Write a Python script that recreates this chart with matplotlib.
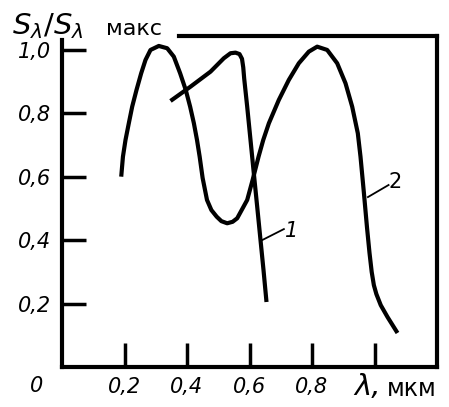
import matplotlib
matplotlib.use("Agg")
import matplotlib.pyplot as plt

# Relative spectral sensitivity, curve 1
x1 = [0.3472, 0.4112, 0.4752, 0.5178, 0.5392, 0.5552, 0.5680, 0.5760, 0.5800,
      0.5830, 0.5926, 0.6032, 0.6138, 0.6246, 0.6352, 0.6448, 0.6544]
y1 = [0.8391, 0.8842, 0.9315, 0.9738, 0.9896, 0.9915, 0.9870, 0.9720, 0.9450,
      0.9100, 0.8211, 0.7161, 0.6110, 0.5057, 0.4006, 0.3060, 0.2050]

# Relative spectral sensitivity, curve 2
x2 = [0.1895, 0.1950, 0.2032, 0.2138, 0.2246, 0.2384, 0.2534, 0.2672, 0.2832,
      0.3098, 0.3366, 0.3578, 0.3780, 0.3960, 0.4100, 0.4220, 0.4320, 0.4405,
      0.4500, 0.4640, 0.4780, 0.4950, 0.5100, 0.5286, 0.5460, 0.5606, 0.5926,
      0.6100, 0.6290, 0.6440, 0.6620, 0.6938, 0.7258, 0.7578, 0.7898, 0.8166,
      0.8486, 0.8806, 0.9072, 0.9286, 0.9466, 0.9552, 0.9660, 0.9760, 0.9840,
      0.9910, 0.9980, 1.0060, 1.0200, 1.0416, 1.0736]
y2 = [0.6003, 0.6634, 0.7161, 0.7688, 0.8212, 0.8738, 0.9265, 0.9685, 1.0000,
      1.0126, 1.0054, 0.9789, 0.9265, 0.8738, 0.8212, 0.7688, 0.7161, 0.6634,
      0.5962, 0.5268, 0.4950, 0.4741, 0.4600, 0.4533, 0.4580, 0.4691, 0.5268,
      0.5899, 0.6634, 0.7161, 0.7688, 0.8423, 0.9054, 0.9580, 0.9946, 1.0104,
      1.0000, 0.9580, 0.8950, 0.8211, 0.7372, 0.6634, 0.5500, 0.4400, 0.3600,
      0.3000, 0.2580, 0.2300, 0.1950, 0.1577, 0.1073]

xticks = [0.2, 0.4, 0.6, 0.8, 1.0]
xticklabels = ["0,2", "0,4", "0,6", "0,8", ""]
yticks = [0.2, 0.4, 0.6, 0.8, 1.0]
yticklabels = ["0,2", "0,4", "0,6", "0,8", "1,0"]

fig = plt.figure(figsize=(4.49, 4.07), dpi=100)
ax = fig.add_axes([62 / 449, 1 - 367 / 407, 375 / 449, 331 / 407])
ax.set_xlim(0, 1.2)
ax.set_ylim(0, 1.044)

lw = 3.0
for xs, ys in ((x1, y1), (x2, y2)):
    ax.plot(xs, ys, color="black", lw=lw, solid_capstyle="butt",
            solid_joinstyle="round")

for side in ["left", "right", "top", "bottom"]:
    ax.spines[side].set_linewidth(3.0)
ax.spines["top"].set_bounds(0.373, 1.2)
ax.spines["left"].set_bounds(0, 1.03)

tick_font = dict(fontsize=15, fontstyle="italic", family="DejaVu Sans")
ax.set_xticks(xticks)
ax.set_xticklabels(xticklabels, **tick_font)
ax.set_yticks(yticks)
ax.set_yticklabels(yticklabels, **tick_font)
ax.tick_params(direction="in", length=17, width=2.5, pad=7)
ax.tick_params(axis="y", pad=8)

# origin label and axis captions
ax.text(-0.06, -0.028, "0", ha="right", va="top", **tick_font)
ax.text(0.935, -0.02, "λ,", ha="left", va="top", fontsize=21, fontstyle="italic")
ax.text(1.04, -0.03, "мкм", ha="left", va="top", fontsize=17)

fig.text(12 / 449, 1 - 34 / 407, r"$S_{\lambda}/S_{\lambda}$", fontsize=21,
         ha="left", va="baseline")
fig.text(106 / 449, 1 - 35 / 407, "макс", fontsize=16, ha="left", va="baseline")

# curve labels with leader lines
ax.plot([0.64, 0.71], [0.40, 0.435], color="black", lw=1.3)
ax.text(0.715, 0.43, "1", fontsize=15, fontstyle="italic", ha="left", va="center")
ax.plot([0.979, 1.045], [0.536, 0.574], color="black", lw=1.3)
ax.text(1.045, 0.585, "2", fontsize=15, ha="left", va="center")

fig.savefig("out.png", dpi=100)
